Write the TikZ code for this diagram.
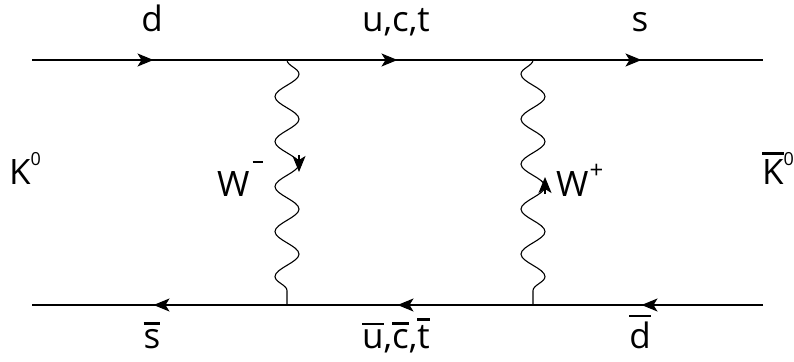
\documentclass[tikz,border=0pt]{standalone}
\usepackage{fontspec}
\setmainfont{Open Sans}
\usetikzlibrary{arrows.meta,decorations.pathmorphing,decorations.markings}
\newcommand\obar[1]{\vbox{\hrule height 2.6pt\kern 4pt\hbox{#1}}}
\newcommand\sups[3][19pt]{\raisebox{#1}{\fontsize{#2}{#2}\selectfont #3}}
\tikzset{
  tipstyle/.style={},
  fermion/.style={line width=1.4pt, postaction={decorate},
    decoration={markings, mark=at position 0.5 with {\arrow{Stealth[length=16pt,width=13pt,inset=4pt]}}}},
  wavy/.style={line width=1.1pt, decorate,
    decoration={snake, amplitude=12pt, segment length=45pt}},
  wavymir/.style={line width=1.1pt, decorate,
    decoration={snake, amplitude=12pt, segment length=45pt, mirror}},
  wtip/.style={line width=1.1pt, -{Stealth[length=16pt,width=13pt,inset=4pt]}},
  lbl/.style={inner sep=0pt, font=\fontsize{35}{42}\selectfont},
}
\begin{document}
\begin{tikzpicture}[x=1pt,y=-1pt]
\useasboundingbox (0,0) rectangle (794,361);
% line coordinates
\coordinate (tA) at (32,60);
\coordinate (tB) at (275,60);
\coordinate (tC) at (520,60);
\coordinate (tD) at (763,60);
\coordinate (bA) at (32,305);
\coordinate (bB) at (275,305);
\coordinate (bC) at (520,305);
\coordinate (bD) at (763,305);
% photon endpoints
\coordinate (w1t) at (287,60);
\coordinate (w1b) at (287,305);
\coordinate (w2t) at (533,60);
\coordinate (w2b) at (533,305);
% arrow on photons
\coordinate (a1s) at (299,155);
\coordinate (a1e) at (299,172);
\coordinate (a2s) at (545,194);
\coordinate (a2e) at (545,177);
% fermion lines
\draw[fermion] (tA) -- (tB);
\draw[fermion] (tB) -- (tC);
\draw[fermion] (tC) -- (tD);
\draw[fermion] (bD) -- (bC);
\draw[fermion] (bC) -- (bB);
\draw[fermion] (bB) -- (bA);
% photons
\draw[wavy] (w1t) -- (w1b);
\draw[wavymir] (w2t) -- (w2b);
\draw[wtip] (a1s) -- (a1e);
\draw[wtip] (a2s) -- (a2e);
% labels
\node[lbl, anchor=base west] (k0) at (9,184) {K\sups{18}{0}};
\node[lbl, anchor=base west] (kb0) at (762,184) {\obar{K}\sups{18}{0}};
\node[lbl, anchor=base] (ld) at (152,32) {d};
\node[lbl, anchor=base] (luct) at (396,32) {u,c,t};
\node[lbl, anchor=base] (ls) at (640,32) {s};
\node[lbl, anchor=base west] (wm) at (217,196) {W\kern3pt\sups[33pt]{18}{\rule{10pt}{2.2pt}}};
\node[lbl, anchor=base west] (wp) at (556,196) {W\kern1pt\sups[18pt]{24}{+}};
\node[lbl, anchor=base] (lsb) at (152,348) {\obar{s}};
\node[lbl, anchor=base] (luctb) at (396,348) {\obar{u},\obar{c},\obar{t}};
\node[lbl, anchor=base] (ldb) at (640,348) {\obar{d}};
\end{tikzpicture}
\end{document}
